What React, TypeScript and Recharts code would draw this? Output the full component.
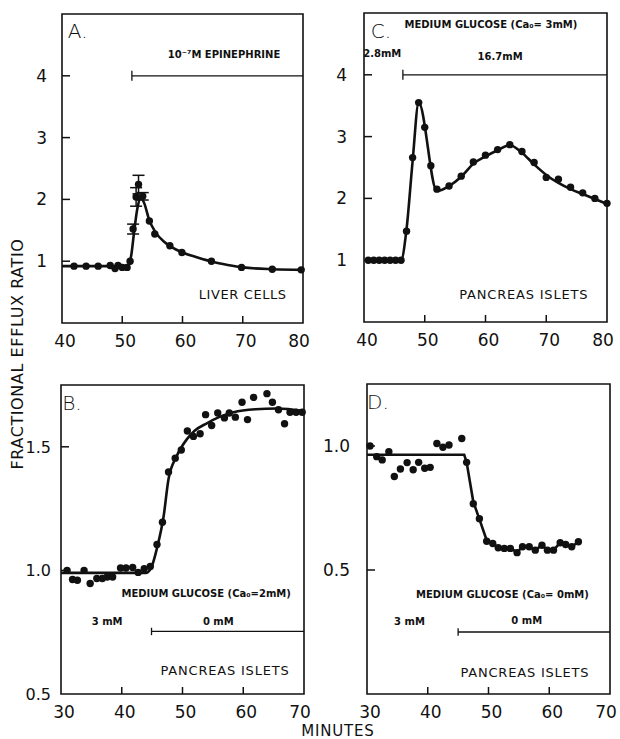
import React from "react";
import {
  ComposedChart,
  XAxis,
  YAxis,
  Line,
  Scatter,
  ErrorBar,
  ReferenceArea,
  ReferenceLine,
  ReferenceDot,
} from "recharts";

// Panel A – liver cells, epinephrine
const A_DOTS: [number, number][] = [
  [42, 0.92], [44, 0.92], [46, 0.92], [48, 0.93], [48.8, 0.88], [49.3, 0.93],
  [50, 0.9], [50.8, 0.9], [51.3, 1.0], [54.5, 1.65], [55.4, 1.44], [57.9, 1.25],
  [59.9, 1.14], [64.8, 1.0], [69.8, 0.9], [74.9, 0.87], [79.7, 0.86],
];
const A_PEAK: [number, number, number][] = [
  [51.8, 1.52, 0.08], [52.3, 2.04, 0.15], [52.7, 2.24, 0.15], [53.4, 2.05, 0.06],
];
const A_CURVE: [number, number][] = [
  [40, 0.92], [44, 0.92], [48, 0.92], [50, 0.92], [51, 0.93], [51.5, 1.1],
  [52, 1.5], [52.5, 1.85], [53.1, 2.02], [53.6, 1.95], [54.5, 1.66], [55.5, 1.47],
  [57, 1.31], [58, 1.24], [60, 1.14], [62.5, 1.06], [65, 0.99], [67.5, 0.94],
  [70, 0.9], [75, 0.87], [80, 0.86],
];

// Panel C – pancreas islets, glucose 2.8 -> 16.7 mM
const C_DOTS: [number, number][] = [
  [40.7, 1.0], [41.6, 1.0], [42.5, 1.0], [43.4, 1.0], [44.3, 1.0], [45.2, 1.0],
  [46.1, 1.0], [47, 1.47], [48, 2.66], [49, 3.55], [50, 3.15], [51, 2.53],
  [52, 2.15], [54, 2.2], [56, 2.36], [58, 2.59], [60, 2.7], [62, 2.79], [64, 2.87],
  [66, 2.76], [68, 2.58], [70, 2.34], [72, 2.31], [74, 2.18], [76, 2.09], [78, 2.0],
  [80, 1.92],
];
const C_CURVE: [number, number][] = [
  [40.7, 1.0], [46.1, 1.0], [47, 1.5], [48, 2.6], [49, 3.55], [52, 2.12], [54, 2.2],
  [56, 2.35], [58, 2.56], [60, 2.68], [62, 2.78], [64, 2.86], [66, 2.74], [68, 2.55],
  [70, 2.38], [72, 2.25], [74, 2.15], [76, 2.07], [78, 1.99], [80, 1.91],
];

// Panel B – pancreas islets, glucose 3 -> 0 mM, Ca 2 mM
const B_DOTS: [number, number][] = [
  [31, 1.0], [31.9, 0.963], [32.7, 0.96], [33.8, 1.0], [34.8, 0.947], [35.9, 0.967],
  [36.8, 0.967], [37.6, 0.973], [38.5, 0.973], [39.8, 1.01], [40.7, 1.01],
  [41.8, 1.012], [42.7, 0.992], [43.7, 1.007], [44.7, 1.016], [45.8, 1.105],
  [46.7, 1.195], [47.7, 1.398], [48.8, 1.454], [49.8, 1.487], [50.8, 1.564],
  [51.8, 1.542], [52.9, 1.553], [53.8, 1.63], [54.8, 1.586], [55.8, 1.637],
  [56.9, 1.617], [57.7, 1.637], [58.7, 1.62], [59.8, 1.68], [60.7, 1.61], [61.7, 1.7],
  [63.9, 1.715], [64.8, 1.68], [65.8, 1.65], [66.8, 1.593], [67.7, 1.64],
  [68.7, 1.64], [69.7, 1.64],
];
const B_CURVE: [number, number][] = [
  [30, 0.99], [44, 0.99], [45, 1.02], [45.8, 1.09], [46.9, 1.22], [47.7, 1.37],
  [49, 1.46], [50.7, 1.53], [52, 1.565], [54, 1.595], [56, 1.62], [58.4, 1.64],
  [62, 1.652], [65.5, 1.655], [70, 1.645],
];

// Panel D – pancreas islets, glucose 3 -> 0 mM, Ca 0 mM
const D_DOTS: [number, number][] = [
  [30.5, 1.0], [31.6, 0.957], [32.5, 0.944], [33.6, 0.977], [34.5, 0.877],
  [35.5, 0.907], [36.6, 0.933], [37.6, 0.904], [38.5, 0.934], [39.5, 0.91],
  [40.4, 0.914], [41.5, 1.01], [42.5, 0.995], [43.5, 1.004], [45.6, 1.03],
  [46.4, 0.934], [47.5, 0.767], [48.5, 0.707], [49.7, 0.616], [50.7, 0.607],
  [51.6, 0.59], [52.6, 0.587], [53.6, 0.587], [54.7, 0.57], [55.6, 0.594],
  [56.7, 0.594], [57.7, 0.58], [58.8, 0.6], [59.7, 0.58], [60.7, 0.58], [61.8, 0.61],
  [62.7, 0.603], [63.7, 0.594], [64.8, 0.614],
];
const D_CURVE: [number, number][] = [
  [30, 0.965], [46, 0.965], [46.4, 0.934], [47.5, 0.775], [48.5, 0.705], [49.7, 0.62],
  [50.7, 0.607], [51.6, 0.59], [52.6, 0.587], [53.6, 0.587], [54.7, 0.572],
  [55.6, 0.594], [56.7, 0.594], [57.7, 0.58], [58.8, 0.6], [59.7, 0.58], [60.7, 0.58],
  [61.8, 0.61], [62.7, 0.603], [63.7, 0.594], [64.8, 0.614],
];

const X_TICKS_TOP = [40, 50, 60, 70, 80];
const X_TICKS_BOTTOM = [30, 40, 50, 60, 70];
const Y_TICKS_TOP = [1, 2, 3, 4];
const Y_TICKS_B = [0.5, 1.0, 1.5];
const Y_TICKS_D = [0.5, 1.0];

const pts = (arr: [number, number][]) => arr.map(([x, y]) => ({ x, y }));
const errPts = (arr: [number, number, number][]) => arr.map(([x, y, err]) => ({ x, y, err }));

const INK = "#111";
const FONT = "'DejaVu Sans', sans-serif";

const dot = (p: any) => <circle cx={p.cx} cy={p.cy} r={3.7} fill={INK} />;

const xTick = (lo: number, hi: number) => (props: any) => {
  const { x, y, payload } = props;
  const v = payload.value;
  const shift = v === hi ? -4 : 3;
  return (
    <g>
      {v !== lo && v !== hi && (
        <line x1={x} y1={y} x2={x} y2={y - 7} stroke={INK} strokeWidth={1.5} />
      )}
      <text x={x + shift} y={y + 24} textAnchor="middle" fontSize={17} fill={INK} fontFamily={FONT}>
        {v}
      </text>
    </g>
  );
};

const yTick = (lo: number, digits: number, gap: number, size = 17) => (props: any) => {
  const { x, y, payload } = props;
  const v = payload.value;
  return (
    <g>
      {v !== lo && <line x1={x} y1={y} x2={x + 8} y2={y} stroke={INK} strokeWidth={1.5} />}
      <text x={x - gap} y={y + 6} textAnchor="end" fontSize={size} fill={INK} fontFamily={FONT}>
        {v.toFixed(digits)}
      </text>
    </g>
  );
};

const txt = (value: string, size: number, weight = 400, spacing = 0) => ({
  value,
  position: "center" as const,
  fontSize: size,
  fontWeight: weight,
  fill: INK,
  fontFamily: FONT,
  letterSpacing: spacing,
});

const LINE = { stroke: INK, strokeWidth: 2.6, dot: false, isAnimationActive: false };

export default function App() {
  return (
    <div
      style={{
        position: "absolute",
        left: 0,
        top: 0,
        width: 620,
        height: 739,
        background: "#fff",
        fontFamily: FONT,
      }}
    >
      {/* A */}
      <div style={{ position: "absolute", left: 0, top: 0 }}>
        <ComposedChart width={318} height={350} margin={{ top: 14, right: 15, left: 0, bottom: 0 }}>
          <XAxis type="number" dataKey="x" domain={[40, 80]} ticks={X_TICKS_TOP} height={27}
            axisLine={false} tickLine={false} tickSize={0} tickMargin={0} tick={xTick(40, 80)} />
          <YAxis type="number" dataKey="y" domain={[0, 5]} ticks={Y_TICKS_TOP} width={62}
            axisLine={false} tickLine={false} tickSize={0} tickMargin={0} tick={yTick(0, 0, 15)} />
          <ReferenceArea x1={40} x2={80} y1={0} y2={5} fill="none" stroke={INK} strokeWidth={1.6} />
          <Line data={pts(A_CURVE)} dataKey="y" type="monotone" {...LINE} />
          <Scatter data={pts(A_DOTS)} shape={dot} isAnimationActive={false} />
          <Scatter data={errPts(A_PEAK)} shape={dot} isAnimationActive={false}>
            <ErrorBar dataKey="err" direction="y" width={6} stroke={INK} strokeWidth={1.5} />
          </Scatter>
          <ReferenceLine segment={[{ x: 51.6, y: 4 }, { x: 80, y: 4 }]} stroke={INK} strokeWidth={1.3} />
          <ReferenceLine segment={[{ x: 51.6, y: 3.92 }, { x: 51.6, y: 4.08 }]} stroke={INK} strokeWidth={1.3} />
          <ReferenceDot x={66.9} y={4.34} r={0} stroke="none" label={txt("10⁻⁷M EPINEPHRINE", 10, 700)} />
          <ReferenceDot x={70} y={0.47} r={0} stroke="none" label={txt("LIVER CELLS", 13, 400, 0.6)} />
          <ReferenceDot x={42.6} y={4.72} r={0} stroke="none" label={txt("A.", 20, 300)} />
        </ComposedChart>
      </div>

      {/* C */}
      <div style={{ position: "absolute", left: 310, top: 0 }}>
        <ComposedChart width={310} height={350} margin={{ top: 13, right: 13, left: 0, bottom: 0 }}>
          <XAxis type="number" dataKey="x" domain={[40, 80]} ticks={X_TICKS_TOP} height={28}
            axisLine={false} tickLine={false} tickSize={0} tickMargin={0} tick={xTick(40, 80)} />
          <YAxis type="number" dataKey="y" domain={[0, 5]} ticks={Y_TICKS_TOP} width={54}
            axisLine={false} tickLine={false} tickSize={0} tickMargin={0} tick={yTick(0, 0, 17)} />
          <ReferenceArea x1={40} x2={80} y1={0} y2={5} fill="none" stroke={INK} strokeWidth={1.6} />
          <Line data={pts(C_CURVE)} dataKey="y" type="monotone" {...LINE} />
          <Scatter data={pts(C_DOTS)} shape={dot} isAnimationActive={false} />
          <ReferenceLine segment={[{ x: 46.4, y: 4 }, { x: 80, y: 4 }]} stroke={INK} strokeWidth={1.3} />
          <ReferenceLine segment={[{ x: 46.4, y: 3.92 }, { x: 46.4, y: 4.08 }]} stroke={INK} strokeWidth={1.3} />
          <ReferenceDot x={60.9} y={4.81} r={0} stroke="none" label={txt("MEDIUM GLUCOSE (Ca₀= 3mM)", 10, 700)} />
          <ReferenceDot x={43.0} y={4.35} r={0} stroke="none" label={txt("2.8mM", 10, 700)} />
          <ReferenceDot x={62.4} y={4.3} r={0} stroke="none" label={txt("16.7mM", 10, 700)} />
          <ReferenceDot x={66.3} y={0.44} r={0} stroke="none" label={txt("PANCREAS ISLETS", 13, 400, 0.8)} />
          <ReferenceDot x={42.8} y={4.71} r={0} stroke="none" label={txt("C.", 20, 300)} />
        </ComposedChart>
      </div>

      {/* B */}
      <div style={{ position: "absolute", left: 0, top: 355 }}>
        <ComposedChart width={318} height={370} margin={{ top: 30, right: 14, left: 0, bottom: 0 }}>
          <XAxis type="number" dataKey="x" domain={[30, 70]} ticks={X_TICKS_BOTTOM} height={31}
            axisLine={false} tickLine={false} tickSize={0} tickMargin={0} tick={xTick(30, 70)} />
          <YAxis type="number" dataKey="y" domain={[0.5, 1.75]} ticks={Y_TICKS_B} width={61}
            axisLine={false} tickLine={false} tickSize={0} tickMargin={0} tick={yTick(0.5, 1, 10, 16)} />
          <ReferenceArea x1={30} x2={70} y1={0.5} y2={1.75} fill="none" stroke={INK} strokeWidth={1.6} />
          <Line data={pts(B_CURVE)} dataKey="y" type="monotone" {...LINE} />
          <Scatter data={pts(B_DOTS)} shape={dot} isAnimationActive={false} />
          <ReferenceLine segment={[{ x: 44.9, y: 0.753 }, { x: 70, y: 0.753 }]} stroke={INK} strokeWidth={1.3} />
          <ReferenceLine segment={[{ x: 44.9, y: 0.738 }, { x: 44.9, y: 0.768 }]} stroke={INK} strokeWidth={1.3} />
          <ReferenceDot x={53.9} y={0.906} r={0} stroke="none" label={txt("MEDIUM GLUCOSE (Ca₀=2mM)", 10, 700)} />
          <ReferenceDot x={37.6} y={0.795} r={0} stroke="none" label={txt("3 mM", 10, 700)} />
          <ReferenceDot x={55.9} y={0.795} r={0} stroke="none" label={txt("0 mM", 10, 700)} />
          <ReferenceDot x={57} y={0.594} r={0} stroke="none" label={txt("PANCREAS ISLETS", 13, 400, 0.8)} />
          <ReferenceDot x={31.8} y={1.676} r={0} stroke="none" label={txt("B.", 20, 300)} />
        </ComposedChart>
      </div>

      {/* D */}
      <div style={{ position: "absolute", left: 310, top: 355 }}>
        <ComposedChart width={310} height={370} margin={{ top: 29, right: 10, left: 0, bottom: 0 }}>
          <XAxis type="number" dataKey="x" domain={[30, 70]} ticks={X_TICKS_BOTTOM} height={31}
            axisLine={false} tickLine={false} tickSize={0} tickMargin={0} tick={xTick(30, 70)} />
          <YAxis type="number" dataKey="y" domain={[0, 1.25]} ticks={Y_TICKS_D} width={57}
            axisLine={false} tickLine={false} tickSize={0} tickMargin={0} tick={yTick(0, 1, 17)} />
          <ReferenceArea x1={30} x2={70} y1={0} y2={1.25} fill="none" stroke={INK} strokeWidth={1.6} />
          <Line data={pts(D_CURVE)} dataKey="y" type="linear" {...LINE} />
          <Scatter data={pts(D_DOTS)} shape={dot} isAnimationActive={false} />
          <ReferenceLine segment={[{ x: 45, y: 0.25 }, { x: 70, y: 0.25 }]} stroke={INK} strokeWidth={1.3} />
          <ReferenceLine segment={[{ x: 45, y: 0.235 }, { x: 45, y: 0.265 }]} stroke={INK} strokeWidth={1.3} />
          <ReferenceDot x={52.3} y={0.402} r={0} stroke="none" label={txt("MEDIUM GLUCOSE (Ca₀= 0mM)", 10, 700)} />
          <ReferenceDot x={37} y={0.291} r={0} stroke="none" label={txt("3 mM", 10, 700)} />
          <ReferenceDot x={56.3} y={0.295} r={0} stroke="none" label={txt("0 mM", 10, 700)} />
          <ReferenceDot x={56} y={0.088} r={0} stroke="none" label={txt("PANCREAS ISLETS", 13, 400, 0.8)} />
          <ReferenceDot x={31.8} y={1.176} r={0} stroke="none" label={txt("D.", 20, 300)} />
        </ComposedChart>
      </div>

      {/* shared axis titles */}
      <svg width={620} height={739} style={{ position: "absolute", left: 0, top: 0, pointerEvents: "none" }}>
        <text x={17} y={354} transform="rotate(-90 17 354)" textAnchor="middle" dominantBaseline="central"
          fontSize={16} fill={INK} fontFamily={FONT} letterSpacing={0.6}>
          FRACTIONAL EFFLUX RATIO
        </text>
        <text x={338} y={736} textAnchor="middle" fontSize={15} fill={INK} fontFamily={FONT} letterSpacing={0.8}>
          MINUTES
        </text>
      </svg>
    </div>
  );
}
